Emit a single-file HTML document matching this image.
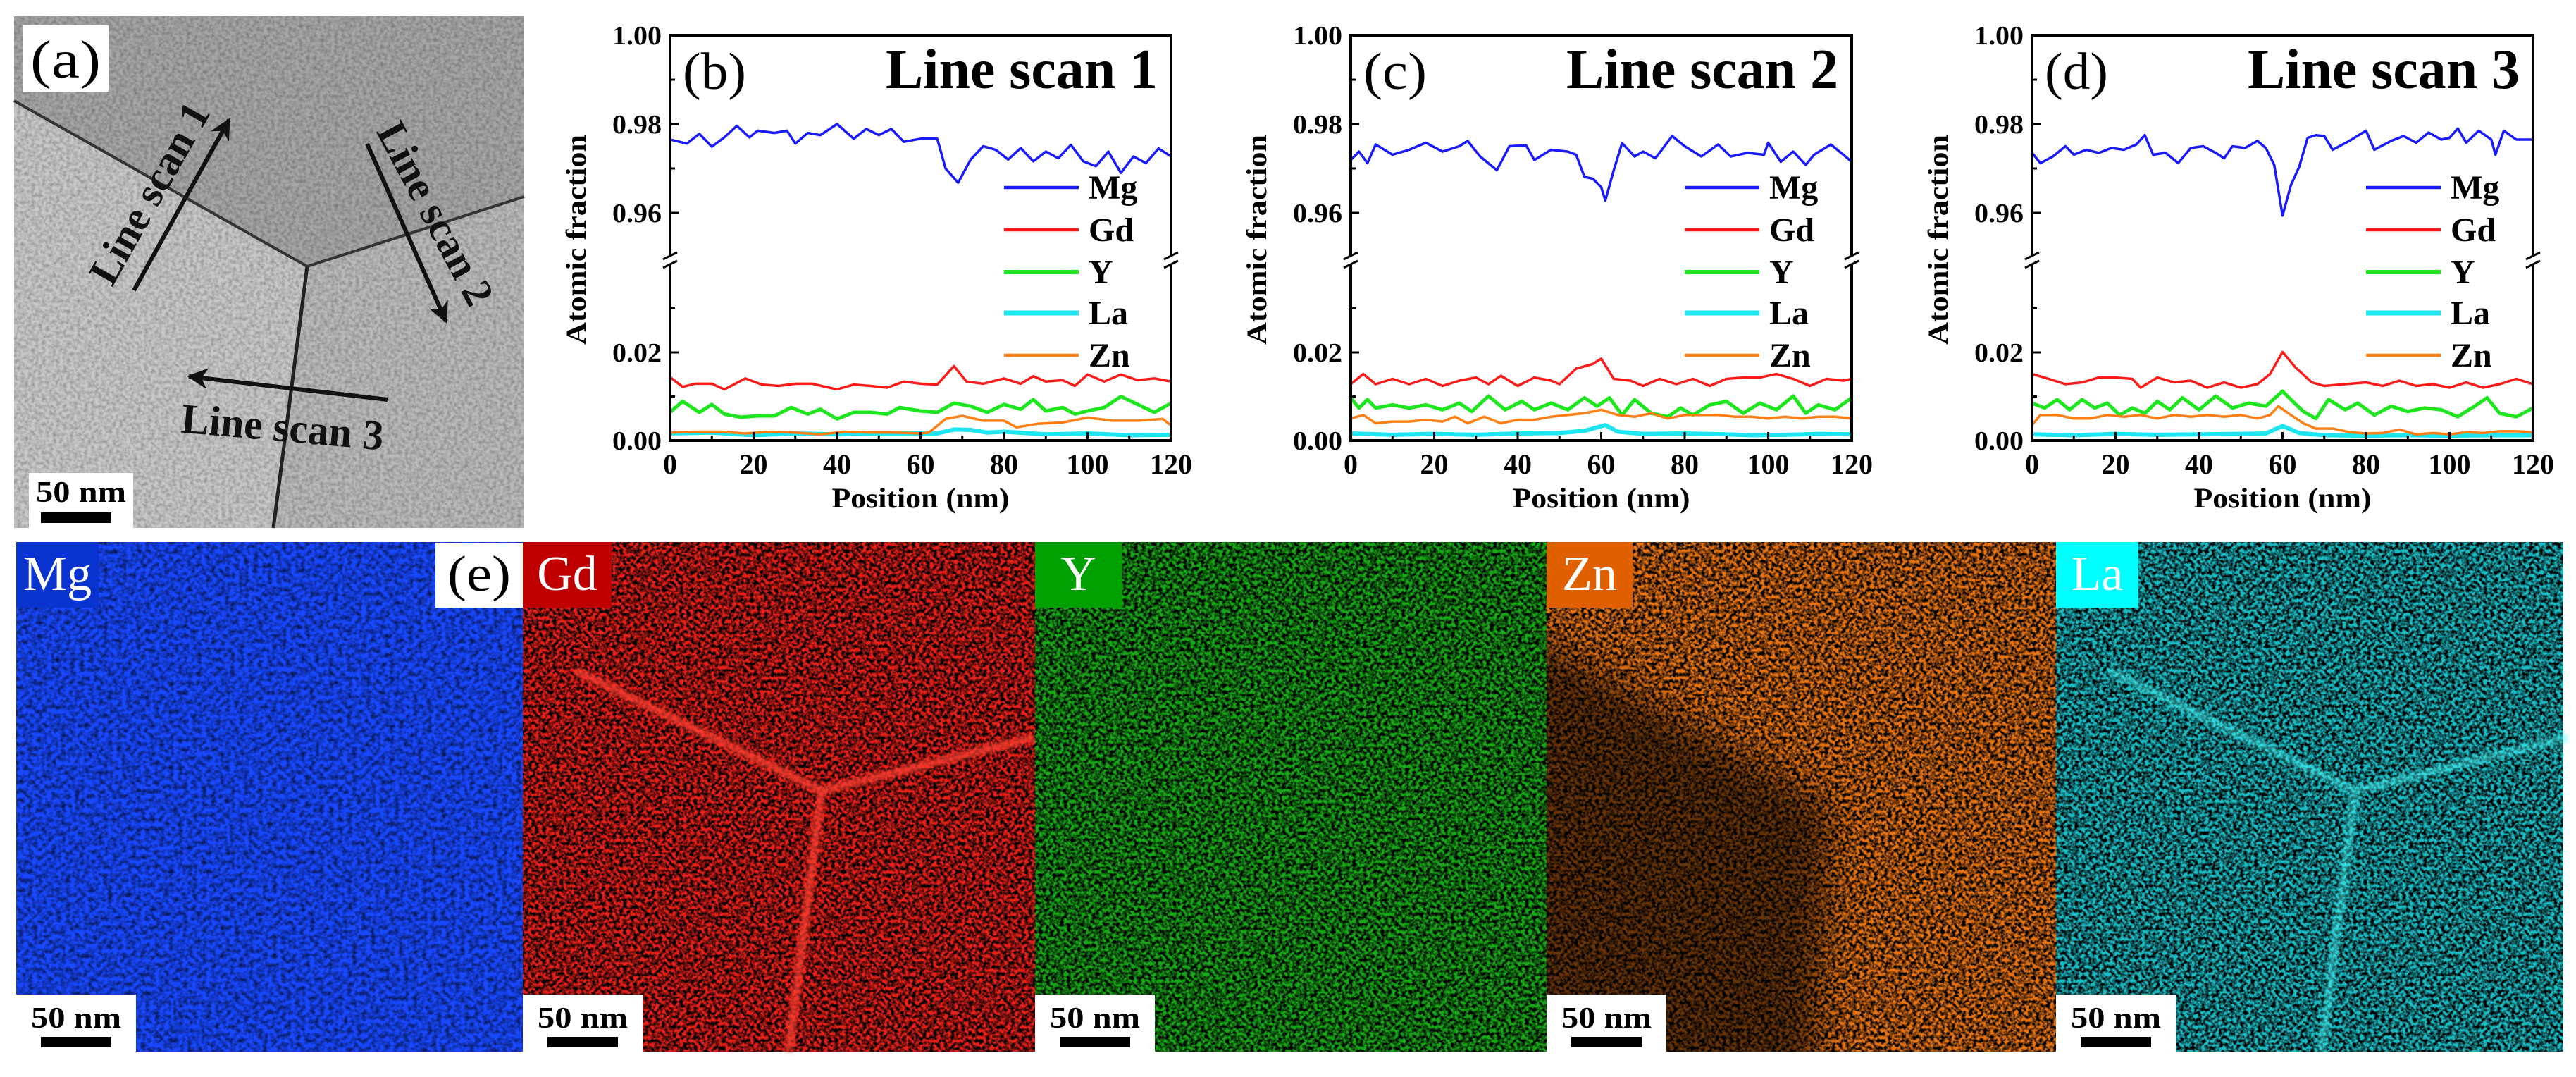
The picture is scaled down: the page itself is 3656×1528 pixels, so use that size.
<!DOCTYPE html>
<html><head><meta charset="utf-8">
<style>
html,body{margin:0;padding:0;background:#fff;}
svg{display:block;}
text{font-family:"Liberation Serif","DejaVu Serif",serif;}
</style></head>
<body>
<svg id="fig" xmlns="http://www.w3.org/2000/svg" width="3656" height="1528" viewBox="0 0 3656 1528">
<defs>
<filter id="spk" x="0" y="0" width="1" height="1">
<feTurbulence type="fractalNoise" baseFrequency="0.2" numOctaves="2" seed="7" result="t"/>
<feColorMatrix in="t" type="matrix" values="0 0 0 0 0  0 0 0 0 0  0 0 0 0 0  3 0 0 0 -1.05"/>
</filter>
<filter id="spkLight" x="0" y="0" width="1" height="1">
<feTurbulence type="fractalNoise" baseFrequency="0.15" numOctaves="2" seed="11" result="t"/>
<feColorMatrix in="t" type="matrix" values="0 0 0 0 0  0 0 0 0 0  0 0 0 0 0  1.4 0 0 0 -0.5"/>
</filter>
<filter id="spk2" x="0" y="0" width="1" height="1">
<feTurbulence type="fractalNoise" baseFrequency="0.2" numOctaves="2" seed="3" result="t"/>
<feColorMatrix in="t" type="matrix" values="0 0 0 0 0  0 0 0 0 0  0 0 0 0 0  0.5 0 0 0 -0.17"/>
</filter>
<filter id="blur20"><feGaussianBlur stdDeviation="25"/></filter>
<filter id="blur4"><feGaussianBlur stdDeviation="3"/></filter>
<marker id="ah" viewBox="0 0 10 10" refX="9" refY="5" markerWidth="5" markerHeight="5" orient="auto"><path d="M0,0 L10,5 L0,10 L3,5 z" fill="#111"/></marker>
</defs>

<!-- Panel (a) TEM -->
<g>
<rect x="20" y="23" width="724" height="726" fill="#c8c8c8"/>
<polygon points="20,23 744,23 744,279 436,378 20,143" fill="#a6a6a6"/>
<polygon points="436,378 744,279 744,749 388,749" fill="#bababa"/>
<rect x="20" y="23" width="724" height="726" fill="#000" filter="url(#spk2)"/>
<polyline points="20,143 436,378 744,279" fill="none" stroke="#333" stroke-width="4"/>
<line x1="436" y1="378" x2="388" y2="749" stroke="#222" stroke-width="5"/>
<rect x="32" y="36" width="122" height="94" fill="#fff"/>
<text x="93" y="110" font-size="76" text-anchor="middle" textLength="100" lengthAdjust="spacingAndGlyphs">(a)</text>
<line x1="190" y1="412" x2="325" y2="170" stroke="#111" stroke-width="6" marker-end="url(#ah)"/>
<line x1="521" y1="204" x2="633" y2="456" stroke="#111" stroke-width="6" marker-end="url(#ah)"/>
<line x1="550" y1="567" x2="268" y2="534" stroke="#111" stroke-width="6" marker-end="url(#ah)"/>
<text x="212" y="274" font-size="60" font-weight="bold" text-anchor="middle" dominant-baseline="central" textLength="285" lengthAdjust="spacingAndGlyphs" transform="rotate(-60.5 212 274)" fill="#111">Line scan 1</text>
<text x="618" y="303" font-size="60" font-weight="bold" text-anchor="middle" dominant-baseline="central" textLength="285" lengthAdjust="spacingAndGlyphs" transform="rotate(62 618 303)" fill="#111">Line scan 2</text>
<text x="401" y="606" font-size="60" font-weight="bold" text-anchor="middle" dominant-baseline="central" textLength="288" lengthAdjust="spacingAndGlyphs" transform="rotate(5 401 606)" fill="#111">Line scan 3</text>
<rect x="41" y="671" width="148" height="78" fill="#fff"/>
<text x="115" y="712" font-size="42" font-weight="bold" text-anchor="middle" textLength="128" lengthAdjust="spacingAndGlyphs">50 nm</text>
<rect x="58" y="727" width="100" height="15" fill="#000"/>
</g>

<g id="charts"></g>
<g id="maps"></g>
</svg>

<script>
// ---------- Line scan data (position nm / atomic fraction) ----------
const xTicks = [0, 20, 40, 60, 80, 100, 120];
const yUpperTicks = [1.00, 0.98, 0.96];
const yLowerTicks = [0.02, 0.00];
const yUpperTickLabels = ["1.00", "0.98", "0.96"];
const yLowerTickLabels = ["0.02", "0.00"];
const elements = ["Mg", "Gd", "Y", "La", "Zn"];

// Panel (b) Line scan 1
const bMgX = [0,4,7,10,13,16,19,21,25,28,30,33,36,40,44,47,50,53,56,60,64,66,69,72,75,78,81,84,87,90,93,96,99,102,105,108,111,114,117,120];
const bMgY = [0.9765,0.9756,0.9778,0.9749,0.977,0.9796,0.977,0.9785,0.978,0.9785,0.9756,0.978,0.9775,0.980,0.9767,0.9789,0.9775,0.9789,0.976,0.9767,0.9767,0.9700,0.9668,0.9720,0.9750,0.9742,0.9720,0.9746,0.9716,0.9738,0.9723,0.9753,0.9716,0.9705,0.9738,0.9690,0.9727,0.9712,0.9745,0.9727];
const bGdX = [0,3,6,10,13,18,22,26,30,34,40,44,48,52,56,60,64,68,71,75,80,84,87,90,94,97,100,104,108,112,116,120];
const bGdY = [0.0144,0.0122,0.0129,0.0129,0.0116,0.0141,0.0127,0.0124,0.0129,0.0129,0.0116,0.0127,0.0124,0.0120,0.0134,0.0129,0.0127,0.0169,0.0134,0.0129,0.0141,0.0129,0.0146,0.0134,0.0137,0.0124,0.0150,0.0134,0.0150,0.0137,0.0141,0.0134];
const bYX = [0,3,7,10,13,17,21,25,29,33,36,40,44,48,52,55,60,64,68,72,76,80,84,87,90,94,97,100,104,108,112,116,120];
const bYY = [0.0064,0.0089,0.0064,0.0082,0.0060,0.0053,0.0056,0.0056,0.0075,0.0060,0.0071,0.0049,0.0064,0.0064,0.0060,0.0075,0.0067,0.0064,0.0085,0.0078,0.0064,0.0082,0.0071,0.0093,0.0067,0.0075,0.0060,0.0067,0.0075,0.0100,0.0082,0.0064,0.0085];
const bZnX = [0,6,12,18,24,30,36,42,48,54,60,62,66,70,75,80,83,88,94,100,106,112,118,120];
const bZnY = [0.0018,0.0020,0.0020,0.0016,0.0020,0.0018,0.0014,0.0020,0.0018,0.0018,0.0016,0.0018,0.0049,0.0056,0.0045,0.0045,0.0030,0.0038,0.0041,0.0052,0.0045,0.0045,0.0049,0.0034];
const bLaX = [0,10,20,30,40,50,60,64,68,72,76,80,90,100,110,120];
const bLaY = [0.0016,0.0018,0.0012,0.0016,0.0014,0.0016,0.0016,0.0016,0.0025,0.0024,0.0018,0.0020,0.0014,0.0016,0.0012,0.0013];

// Panel (c) Line scan 2
const cMgX = [0,2,4,6,10,14,18,22,26,28,31,35,38,42,44,48,52,54,56,58,60,61,63,65,68,70,73,77,80,84,88,91,95,99,100,103,106,109,111,115,118,120];
const cMgY = [0.9719,0.9738,0.9712,0.9754,0.9731,0.9742,0.9758,0.9738,0.9750,0.9762,0.9727,0.9696,0.9750,0.9752,0.9719,0.9742,0.9738,0.9731,0.9681,0.9677,0.9658,0.9628,0.9696,0.9757,0.9727,0.9738,0.9723,0.9773,0.9750,0.9727,0.9754,0.9727,0.9735,0.9731,0.9758,0.9715,0.9738,0.9708,0.9731,0.9754,0.9731,0.9715];
const cGdX = [0,3,6,10,14,18,22,26,30,33,36,40,44,48,50,54,58,60,63,67,70,74,78,82,86,90,94,98,102,106,110,114,118,120];
const cGdY = [0.0128,0.0151,0.0128,0.0140,0.0128,0.0140,0.0124,0.0136,0.0143,0.0128,0.0147,0.0124,0.0143,0.0136,0.0128,0.0163,0.0174,0.0186,0.0140,0.0136,0.0124,0.0140,0.0128,0.0140,0.0124,0.0140,0.0143,0.0143,0.0151,0.0140,0.0124,0.0140,0.0136,0.0140];
const cYX = [0,2,4,6,10,14,18,22,26,29,33,37,41,44,48,52,56,59,62,65,68,72,76,79,82,86,90,94,98,102,106,109,112,116,120];
const cYY = [0.0097,0.0074,0.0093,0.0074,0.0081,0.0074,0.0081,0.0070,0.0085,0.0066,0.0101,0.0070,0.0089,0.0070,0.0085,0.0070,0.0097,0.0078,0.0097,0.0058,0.0093,0.0062,0.0054,0.0074,0.0058,0.0081,0.0089,0.0062,0.0085,0.0070,0.0101,0.0062,0.0081,0.0070,0.0097];
const cZnX = [0,3,6,10,14,18,22,25,28,32,36,40,44,48,52,56,60,64,68,72,76,80,84,88,92,96,100,104,108,112,116,120];
const cZnY = [0.0050,0.0058,0.0039,0.0043,0.0043,0.0047,0.0043,0.0054,0.0039,0.0054,0.0039,0.0047,0.0047,0.0054,0.0058,0.0062,0.0070,0.0058,0.0054,0.0062,0.0050,0.0058,0.0058,0.0058,0.0054,0.0054,0.0050,0.0054,0.0050,0.0054,0.0054,0.0050];
const cLaX = [0,10,20,30,40,50,56,61,64,70,80,90,96,104,112,120];
const cLaY = [0.0016,0.0013,0.0015,0.0013,0.0016,0.0017,0.0022,0.0035,0.0020,0.0015,0.0016,0.0014,0.0012,0.0013,0.0015,0.0014];

// Panel (d) Line scan 3
const dMgX = [0,2,5,8,10,13,16,19,22,25,27,29,32,35,38,41,44,46,48,51,54,56,58,60,62,64,66,68,70,72,76,80,82,86,89,92,95,98,100,102,104,107,110,111,113,116,120];
const dMgY = [0.9735,0.9712,0.9727,0.9750,0.9731,0.9742,0.9735,0.9746,0.9742,0.9754,0.9775,0.9731,0.9735,0.9712,0.9746,0.9750,0.9735,0.9723,0.9750,0.9746,0.9762,0.9746,0.9708,0.9594,0.9662,0.9704,0.9769,0.9775,0.9773,0.9742,0.9762,0.9785,0.9742,0.9762,0.9773,0.9758,0.9781,0.9765,0.9769,0.9790,0.9758,0.9785,0.9765,0.9731,0.9785,0.9765,0.9765];
const dGdX = [0,4,8,12,16,20,24,26,30,34,38,42,46,50,54,57,60,63,67,70,75,80,84,88,92,96,100,104,108,112,116,120];
const dGdY = [0.0151,0.0140,0.0128,0.0132,0.0143,0.0143,0.0140,0.0120,0.0143,0.0132,0.0136,0.0120,0.0132,0.0120,0.0128,0.0151,0.0201,0.0167,0.0132,0.0124,0.0128,0.0132,0.0124,0.0136,0.0124,0.0128,0.0120,0.0132,0.0120,0.0128,0.0140,0.0128];
const dYX = [0,3,6,9,12,15,18,21,24,27,30,33,36,40,44,48,52,56,60,62,65,68,71,75,78,82,86,90,94,98,102,106,109,112,116,120];
const dYY = [0.0085,0.0074,0.0093,0.0070,0.0093,0.0074,0.0085,0.0058,0.0074,0.0062,0.0089,0.0070,0.0097,0.0070,0.0101,0.0074,0.0085,0.0078,0.0112,0.0093,0.0066,0.0050,0.0093,0.0070,0.0085,0.0058,0.0078,0.0066,0.0074,0.0070,0.0054,0.0078,0.0097,0.0062,0.0054,0.0074];
const dZnX = [0,2,6,10,14,18,22,26,30,34,38,42,46,50,54,57,59,62,65,68,72,76,80,84,88,92,96,100,104,108,112,116,120];
const dZnY = [0.0035,0.0058,0.0058,0.0050,0.0050,0.0058,0.0054,0.0058,0.0050,0.0058,0.0054,0.0058,0.0054,0.0058,0.0050,0.0058,0.0078,0.0058,0.0039,0.0027,0.0027,0.0019,0.0016,0.0017,0.0025,0.0014,0.0017,0.0014,0.0019,0.0017,0.0021,0.0021,0.0019];
const dLaX = [0,10,20,30,40,50,56,60,64,70,80,90,100,110,120];
const dLaY = [0.0014,0.0012,0.0015,0.0013,0.0014,0.0015,0.0016,0.0033,0.0017,0.0012,0.0011,0.0012,0.0011,0.0012,0.0012];

const NS = "http://www.w3.org/2000/svg";
const colors = {Mg:"#1a1aff", Gd:"#ff1a1a", Y:"#1ee61e", La:"#1ee6f0", Zn:"#ff7f14"};
const widths = {Mg:3.5, Gd:3.5, Y:5, La:6, Zn:3.5};

function mk(tag, attrs, parent){
  const e = document.createElementNS(NS, tag);
  for (const k in attrs) e.setAttribute(k, attrs[k]);
  if (parent) parent.appendChild(e);
  return e;
}
const TOP = 50, BOT = 625, W = 711;
function yUp(v){ return TOP + (1.0 - v) / 0.02 * 126; }
function yLo(v){ return BOT - v / 0.02 * 125; }

function drawPanel(left, letter, title, series){
  const root = document.getElementById('charts');
  const g = mk('g', {}, root);
  
  
  const xs = v => left + v / 120 * W;
  const cid = 'clip' + letter;
  const defs = mk('defs', {}, g);
  const cpU = mk('clipPath', {id: cid + 'u'}, defs);
  mk('rect', {x:left, y:TOP, width:W, height:362-TOP}, cpU);
  const cpL = mk('clipPath', {id: cid + 'l'}, defs);
  mk('rect', {x:left, y:378, width:W, height:BOT-378}, cpL);

  series.forEach(s => {
    const upper = s.name === 'Mg';
    const pts = s.x.map((xv, i) => xs(xv).toFixed(1) + ',' + (upper ? yUp(s.y[i]) : yLo(s.y[i])).toFixed(1)).join(' ');
    const pl = mk('polyline', {points:pts, fill:'none', stroke:colors[s.name], 'stroke-width':widths[s.name], 'stroke-linejoin':'round', 'clip-path':'url(#' + cid + (upper?'u':'l') + ')'}, g);
    
    
  });

  const fr = mk('rect', {x:left, y:TOP, width:W, height:BOT-TOP, fill:'none', stroke:'#000', 'stroke-width':4}, g);
  
  
  [left, left + W].forEach(ax => {
    mk('rect', {x:ax-4, y:362, width:8, height:14, fill:'#fff'}, g);
    const b1 = mk('line', {x1:ax-10, y1:368, x2:ax+10, y2:358, stroke:'#000', 'stroke-width':3}, g);
    
    
    mk('line', {x1:ax-10, y1:380, x2:ax+10, y2:370, stroke:'#000', 'stroke-width':3}, g);
  });
  yUpperTicks.forEach((v, i) => {
    const y = yUp(v);
    mk('line', {x1:left, y1:y, x2:left+12, y2:y, stroke:'#000', 'stroke-width':3}, g);
    const t = mk('text', {x:left-12, y:y+13, 'font-size':38, 'font-weight':'bold', 'text-anchor':'end', textLength:70, lengthAdjust:'spacingAndGlyphs'}, g);
    t.textContent = yUpperTickLabels[i];
    
    
  });
  [0.97, 0.99].forEach(v => mk('line', {x1:left, y1:yUp(v), x2:left+7, y2:yUp(v), stroke:'#000', 'stroke-width':3}, g));
  yLowerTicks.forEach((v, i) => {
    const y = yLo(v);
    mk('line', {x1:left, y1:y, x2:left+12, y2:y, stroke:'#000', 'stroke-width':3}, g);
    const t = mk('text', {x:left-12, y:y+13, 'font-size':38, 'font-weight':'bold', 'text-anchor':'end', textLength:70, lengthAdjust:'spacingAndGlyphs'}, g);
    t.textContent = yLowerTickLabels[i];
    
    
  });
  [0.01, 0.03].forEach(v => mk('line', {x1:left, y1:yLo(v), x2:left+7, y2:yLo(v), stroke:'#000', 'stroke-width':3}, g));
  xTicks.forEach(v => {
    mk('line', {x1:xs(v), y1:BOT, x2:xs(v), y2:BOT-12, stroke:'#000', 'stroke-width':3}, g);
    const t = mk('text', {x:xs(v), y:BOT+47, 'font-size':40, 'font-weight':'bold', 'text-anchor':'middle'}, g);
    t.textContent = String(v);
    
    
    if (v < 120) mk('line', {x1:xs(v+10), y1:BOT, x2:xs(v+10), y2:BOT-7, stroke:'#000', 'stroke-width':3}, g);
  });
  const xt = mk('text', {x:left + W/2, y:BOT+95, 'font-size':40, 'font-weight':'bold', 'text-anchor':'middle', textLength:252, lengthAdjust:'spacingAndGlyphs'}, g);
  xt.textContent = 'Position (nm)';
  
  
  const yt = mk('text', {x:left-120, y:340, 'font-size':40, 'font-weight':'bold', 'text-anchor':'middle', textLength:298, lengthAdjust:'spacingAndGlyphs', transform:'rotate(-90 ' + (left-120) + ' 340)'}, g);
  yt.textContent = 'Atomic fraction';
  
  
  const pl = mk('text', {x:left+18, y:126, 'font-size':74, textLength:90, lengthAdjust:'spacingAndGlyphs'}, g);
  pl.textContent = '(' + letter + ')';
  
  
  const tt = mk('text', {x:left+692, y:125, 'font-size':80, 'font-weight':'bold', 'text-anchor':'end', textLength:386, lengthAdjust:'spacingAndGlyphs'}, g);
  tt.textContent = title;
  
  
  const rows = [266, 326, 386, 444, 504];
  elements.forEach((name, i) => {
    const lg = mk('g', {}, g);
    
    
    mk('line', {x1:left+474, y1:rows[i], x2:left+580, y2:rows[i], stroke:colors[name], 'stroke-width':widths[name]+1}, lg);
    const lt = mk('text', {x:left+594, y:rows[i]+16, 'font-size':48, 'font-weight':'bold'}, lg);
    lt.textContent = name;
  });
}

drawPanel(951, 'b', 'Line scan 1', [
  {name:'Mg', x:bMgX, y:bMgY}, {name:'Gd', x:bGdX, y:bGdY}, {name:'Y', x:bYX, y:bYY},
  {name:'La', x:bLaX, y:bLaY}, {name:'Zn', x:bZnX, y:bZnY}]);
drawPanel(1917, 'c', 'Line scan 2', [
  {name:'Mg', x:cMgX, y:cMgY}, {name:'Gd', x:cGdX, y:cGdY}, {name:'Y', x:cYX, y:cYY},
  {name:'La', x:cLaX, y:cLaY}, {name:'Zn', x:cZnX, y:cZnY}]);
drawPanel(2884, 'd', 'Line scan 3', [
  {name:'Mg', x:dMgX, y:dMgY}, {name:'Gd', x:dGdX, y:dGdY}, {name:'Y', x:dYX, y:dYY},
  {name:'La', x:dLaX, y:dLaY}, {name:'Zn', x:dZnX, y:dZnY}]);

// ---------- EDS maps ----------
const mapNames = ["Mg", "Gd", "Y", "Zn", "La"];
const mapX = [23, 742, 1469, 2195, 2918];
const mapW = [719, 727, 726, 723, 720];
const mapBase = ["#1848ff", "#e8201a", "#18a818", "#e87414", "#1cbcc4"];
const mapBox = ["#0a34d0", "#c00000", "#00a000", "#e06000", "#00ffff"];
const mapBoxW = [117, 126, 123, 122, 117];
(function(){
  const root = document.getElementById('maps');
  const MT = 769, MH = 723;
  mapNames.forEach((nm, i) => {
    const x = mapX[i];
    const g = mk('g', {}, root);
    
    
    mk('rect', {x:x, y:MT, width:mapW[i], height:MH, fill:mapBase[i]}, g);
    if (nm === 'Zn') {
      const cp = mk('clipPath', {id:'znclip'}, g);
      mk('rect', {x:x, y:MT, width:mapW[i], height:MH}, cp);
      mk('polygon', {points:(x-60)+','+880+' '+(x+402)+',1143 '+(x+379)+','+(MT+MH+60)+' '+(x-60)+','+(MT+MH+60), fill:'#000', opacity:0.55, filter:'url(#blur20)', 'clip-path':'url(#znclip)'}, g);
    }
    mk('rect', {x:x, y:MT, width:mapW[i], height:MH, fill:'#000', filter: i===0 ? 'url(#spkLight)' : 'url(#spk)'}, g);
    if (nm === 'Gd' || nm === 'La') {
      const c = nm === 'Gd' ? '#ff4030' : '#50ffff';
      const op = nm === 'Gd' ? 0.75 : 0.45;
      const bl = mk('g', {filter:'url(#blur4)', opacity:op}, g);
      mk('polyline', {points:(x+74)+',951 '+(x+424)+',1122 '+(x+727)+',1046', fill:'none', stroke:c, 'stroke-width':12}, bl);
      mk('line', {x1:x+424, y1:1122, x2:x+377, y2:1492, stroke:c, 'stroke-width':12}, bl);
    }
    mk('rect', {x:x, y:MT, width:mapBoxW[i], height:93, fill:mapBox[i]}, g);
    const lt = mk('text', {x:x + mapBoxW[i]/2, y:MT+68, 'font-size':70, fill:'#fff', 'text-anchor':'middle'}, g);
    lt.textContent = nm;
    
    
    const sb = mk('g', {}, g);
    
    
    mk('rect', {x:x, y:1411, width:170, height:81, fill:'#fff'}, sb);
    const st = mk('text', {x:x+85, y:1458, 'font-size':42, 'font-weight':'bold', 'text-anchor':'middle', textLength:128, lengthAdjust:'spacingAndGlyphs'}, sb);
    st.textContent = '50 nm';
    mk('rect', {x:x+35, y:1471, width:100, height:15, fill:'#000'}, sb);
  });
  mk('rect', {x:618, y:770, width:124, height:92, fill:'#fff'}, root);
  const e = mk('text', {x:680, y:838, 'font-size':72, 'text-anchor':'middle', textLength:90, lengthAdjust:'spacingAndGlyphs'}, root);
  e.textContent = '(e)';
  
  
})();
</script>
</body></html>
